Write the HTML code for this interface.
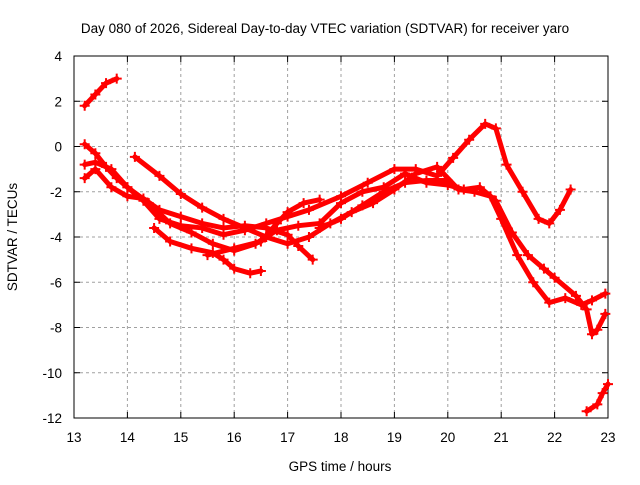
<!DOCTYPE html>
<html><head><meta charset="utf-8"><style>
body{margin:0;background:#fff;font-family:"Liberation Sans",sans-serif}
svg text{font-family:"Liberation Sans",sans-serif;font-size:13.5px;fill:#000}
</style></head><body>
<svg id="chart" width="640" height="480" xmlns="http://www.w3.org/2000/svg">
<rect width="640" height="480" fill="#fff"/>
<text x="325" y="33" text-anchor="middle">Day 080 of 2026, Sidereal Day-to-day VTEC variation (SDTVAR) for receiver yaro</text>
<g id="grid"></g>
<g id="axes"></g>
<g id="series"></g>
<text x="340" y="471" text-anchor="middle">GPS time / hours</text>
<text transform="translate(17,237) rotate(-90)" text-anchor="middle">SDTVAR / TECUs</text>
</svg>
<script>
const xTicks=[13,14,15,16,17,18,19,20,21,22,23];
const yTicks=[4,2,0,-2,-4,-6,-8,-10,-12];
const trackA=[[13.2,1.8],[13.4,2.3],[13.6,2.8],[13.8,3.0]];
const trackB=[[13.2,0.1],[13.4,-0.3],[13.6,-0.9],[13.8,-1.4],[14.0,-1.8],[14.3,-2.4],[14.6,-3.2],[15,-3.5],[15.4,-3.6],[15.8,-3.9],[16.2,-3.7],[16.6,-3.4],[17,-3.1],[17.4,-2.8],[18,-2.2],[18.5,-1.6],[19,-1.0],[19.4,-1.0],[19.8,-1.3],[20.1,-0.5],[20.4,0.3],[20.7,1.0],[20.9,0.8],[21.1,-0.8],[21.4,-2.0],[21.7,-3.2],[21.9,-3.4],[22.1,-2.8],[22.3,-1.9]];
const trackC=[[13.2,-0.8],[13.4,-0.7],[13.7,-1.0],[14.0,-1.8],[14.4,-2.5],[14.8,-3.4],[15.2,-3.8],[15.6,-4.3],[16,-4.6],[16.4,-4.3],[16.8,-3.7],[17.2,-3.5],[17.6,-3.4],[18.0,-2.5],[18.4,-2.0],[18.8,-1.8],[19.2,-1.2],[19.6,-1.6],[20.0,-1.7],[20.3,-1.9],[20.6,-1.8],[20.9,-2.4],[21.2,-3.8],[21.5,-4.8],[21.8,-5.4],[22.0,-5.8],[22.4,-6.6],[22.6,-7.2],[22.7,-8.3],[22.8,-8.1],[22.95,-7.4]];
const trackD=[[13.2,-1.4],[13.4,-1.0],[13.7,-1.8],[14.0,-2.2],[14.3,-2.3],[14.6,-2.8],[15,-3.1],[15.4,-3.4],[15.8,-3.6],[16.2,-3.5],[16.6,-3.6],[17.0,-3.9],[17.2,-4.4],[17.47,-5.0]];
const trackE=[[14.14,-0.46],[14.6,-1.3],[15.0,-2.1],[15.4,-2.7],[15.8,-3.2],[16.2,-3.6],[16.6,-4.0],[17.0,-4.3],[17.4,-4.0],[17.8,-3.4],[18.2,-2.9],[18.6,-2.5],[19.0,-1.9],[19.4,-1.2],[19.8,-0.9],[20.2,-1.9],[20.5,-2.0],[20.8,-2.2],[21.0,-3.2],[21.3,-4.8],[21.6,-6.0],[21.9,-6.9],[22.2,-6.7],[22.5,-7.0],[22.7,-6.8],[22.95,-6.5]];
const trackF=[[14.5,-3.6],[14.8,-4.2],[15.2,-4.5],[15.6,-4.7],[15.8,-5.0],[16.0,-5.4],[16.3,-5.6],[16.5,-5.5]];
const trackG=[[15.5,-4.8],[16.0,-4.5],[16.5,-4.2],[16.8,-3.4],[17.0,-2.9],[17.3,-2.5],[17.6,-2.35]];
const trackH=[[17.6,-3.6],[18.0,-3.2],[18.4,-2.6],[18.8,-2.0],[19.2,-1.6],[19.6,-1.5],[20.0,-1.5]];
const trackI=[[22.6,-11.7],[22.8,-11.4],[22.9,-10.9],[23.0,-10.5]];
const tracks=[trackA,trackB,trackC,trackD,trackE,trackF,trackG,trackH,trackI];
const X0=74,X1=608,Y0=56,Y1=418;
const xs=v=>X0+(v-13)/10*(X1-X0);
const ys=v=>Y0+(4-v)/16*(Y1-Y0);
const NS="http://www.w3.org/2000/svg";
function mk(t,a,p){const e=document.createElementNS(NS,t);for(const k in a)e.setAttribute(k,a[k]);p.appendChild(e);return e;}
const grid=document.getElementById('grid'),axes=document.getElementById('axes'),ser=document.getElementById('series');
xTicks.forEach(t=>{const x=xs(t);
 if(t>13&&t<23){const l=mk('line',{x1:x,y1:Y0,x2:x,y2:Y1,stroke:'#a0a0a0','stroke-dasharray':'3,3'},grid);}
 mk('line',{x1:x,y1:Y1,x2:x,y2:Y1-6,stroke:'#000'},axes);mk('line',{x1:x,y1:Y0,x2:x,y2:Y0+6,stroke:'#000'},axes);
 const tx=mk('text',{x:x,y:Y1+24,'text-anchor':'middle'},axes);tx.textContent=t;
 });
yTicks.forEach(t=>{const y=ys(t);
 if(t<4&&t>-12){const l=mk('line',{x1:X0,y1:y,x2:X1,y2:y,stroke:'#a0a0a0','stroke-dasharray':'3,3'},grid);}
 mk('line',{x1:X0,y1:y,x2:X0+6,y2:y,stroke:'#000'},axes);mk('line',{x1:X1,y1:y,x2:X1-6,y2:y,stroke:'#000'},axes);
 const tx=mk('text',{x:X0-12,y:y+5,'text-anchor':'end'},axes);tx.textContent=t;
 });
mk('rect',{x:X0,y:Y0,width:X1-X0,height:Y1-Y0,fill:'none',stroke:'#000'},axes);
tracks.forEach(tr=>{
 const pl=mk('polyline',{points:tr.map(p=>xs(p[0])+','+ys(p[1])).join(' '),fill:'none',stroke:'#f00','stroke-width':5,'stroke-linejoin':'round','stroke-linecap':'round'},ser);
 
 
 tr.forEach(p=>{const x=xs(p[0]),y=ys(p[1]);
  const c=mk('path',{d:`M${x-5},${y}H${x+5}M${x},${y-5}V${y+5}`,stroke:'#f00','stroke-width':2},ser);
  
  });
});
</script>
</body></html>
